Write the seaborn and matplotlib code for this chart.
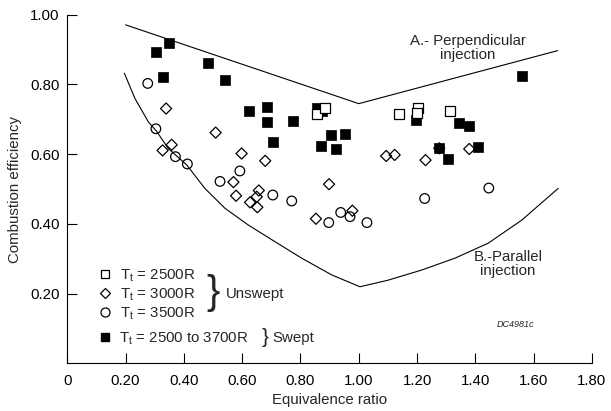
import matplotlib
matplotlib.use("Agg")
import matplotlib.pyplot as plt
import seaborn as sns
import pandas as pd
from matplotlib.lines import Line2D

# ---------------- data ----------------
# T_t = 2500R, unswept (open squares)
sq_x = [0.858, 0.883, 1.138, 1.202, 1.199, 1.312]
sq_y = [0.714, 0.733, 0.714, 0.733, 0.717, 0.724]

# T_t = 3000R, unswept (open diamonds)
dm_x = [0.339, 0.327, 0.358, 0.509, 0.598, 0.679, 0.570, 0.579, 0.657, 0.650,
        0.627, 0.652, 0.898, 0.853, 0.978, 1.094, 1.123, 1.229, 1.379, 1.276]
dm_y = [0.731, 0.611, 0.627, 0.662, 0.602, 0.581, 0.520, 0.481, 0.496, 0.478,
        0.462, 0.448, 0.514, 0.415, 0.438, 0.595, 0.598, 0.583, 0.615, 0.617]

# T_t = 3500R, unswept (open circles)
ci_x = [0.276, 0.304, 0.371, 0.412, 0.524, 0.592, 0.705, 0.770, 0.897, 0.938,
        0.970, 1.028, 1.226, 1.446]
ci_y = [0.803, 0.673, 0.593, 0.572, 0.522, 0.552, 0.483, 0.466, 0.404, 0.433,
        0.421, 0.404, 0.473, 0.503]

# T_t = 2500 to 3700R, swept (filled squares)
sw_x = [0.303, 0.350, 0.327, 0.484, 0.542, 0.624, 0.684, 0.684, 0.775, 0.705,
        0.858, 0.873, 0.904, 0.954, 0.871, 0.923, 1.196, 1.345, 1.377, 1.561,
        1.408, 1.306, 1.276]
sw_y = [0.892, 0.920, 0.820, 0.862, 0.813, 0.724, 0.734, 0.692, 0.694, 0.635,
        0.733, 0.724, 0.655, 0.657, 0.625, 0.615, 0.698, 0.689, 0.681, 0.825,
        0.622, 0.585, 0.617]

# Boundary A (perpendicular injection)
lineA_x = [0.200, 1.000, 1.682]
lineA_y = [0.971, 0.745, 0.897]

# Boundary B (parallel injection)
lineB_x = [0.196, 0.232, 0.278, 0.307, 0.346, 0.410, 0.472, 0.541, 0.621,
           0.713, 0.804, 0.907, 1.004, 1.101, 1.216, 1.330, 1.444, 1.559, 1.684]
lineB_y = [0.832, 0.760, 0.693, 0.665, 0.617, 0.569, 0.502, 0.445, 0.397,
           0.349, 0.302, 0.254, 0.220, 0.239, 0.268, 0.302, 0.345, 0.411, 0.502]

x_ticks = [0, 0.2, 0.4, 0.6, 0.8, 1.0, 1.2, 1.4, 1.6, 1.8]
x_tick_labels = ["0", "0.20", "0.40", "0.60", "0.80", "1.00", "1.20", "1.40", "1.60", "1.80"]
y_ticks = [0.2, 0.4, 0.6, 0.8, 1.0]
y_tick_labels = ["0.20", "0.40", "0.60", "0.80", "1.00"]

legend_unswept = ["T$_\\mathregular{t}$ = 2500R", "T$_\\mathregular{t}$ = 3000R",
                  "T$_\\mathregular{t}$ = 3500R"]
legend_swept = ["T$_\\mathregular{t}$ = 2500 to 3700R"]

# ---------------- style ----------------
sns.set_style("ticks")
plt.rcParams["font.family"] = ["Liberation Sans", "DejaVu Sans"]
plt.rcParams["mathtext.fontset"] = "custom"
plt.rcParams["mathtext.rm"] = "Liberation Sans"
plt.rcParams["mathtext.it"] = "Liberation Sans:italic"
plt.rcParams["mathtext.bf"] = "Liberation Sans:bold"

FS = 10.8

fig = plt.figure(figsize=(6.11, 4.11), dpi=100)
ax = fig.add_axes([0.1101, 0.1156, 0.8588, 0.8486])

lw = 0.8
sns.lineplot(x=lineA_x, y=lineA_y, sort=False, estimator=None, color="black",
             linewidth=lw, ax=ax)
sns.lineplot(x=lineB_x, y=lineB_y, sort=False, estimator=None, color="black",
             linewidth=lw, ax=ax)

sns.scatterplot(x=ci_x, y=ci_y, marker="o", s=48, facecolor="none",
                edgecolor="black", linewidth=0.9, ax=ax, zorder=3)
sns.scatterplot(x=dm_x, y=dm_y, marker="D", s=32, facecolor="none",
                edgecolor="black", linewidth=0.9, ax=ax, zorder=3)
sns.scatterplot(x=sw_x, y=sw_y, marker="s", s=46, facecolor="black",
                edgecolor="black", linewidth=0.5, ax=ax, zorder=4)
sns.scatterplot(x=sq_x, y=sq_y, marker="s", s=42, facecolor="white",
                edgecolor="black", linewidth=0.9, ax=ax, zorder=5)

ax.set_xlim(0, 1.8)
ax.set_ylim(0, 1.0)
ax.set_xticks(x_ticks)
ax.set_xticklabels(x_tick_labels)
ax.set_yticks(y_ticks)
ax.set_yticklabels(y_tick_labels)
ax.tick_params(axis="both", direction="in", length=7, width=0.8, labelsize=FS,
               colors="black")
ax.tick_params(axis="x", pad=7.5)
ax.tick_params(axis="y", pad=5.5)
for s in ["top", "right"]:
    ax.spines[s].set_visible(False)
for s in ["left", "bottom"]:
    ax.spines[s].set_linewidth(0.8)
    ax.spines[s].set_color("black")

ax.set_xlabel("Equivalence ratio", fontsize=FS, labelpad=4)
ax.set_ylabel("Combustion efficiency", fontsize=FS, labelpad=5.5)

# annotations
ax.text(1.375, 0.905, "A.- Perpendicular\ninjection", ha="center", va="center",
        multialignment="center", fontsize=FS, linespacing=1.0)
ax.text(1.512, 0.285, "B.-Parallel\ninjection", ha="center", va="center",
        multialignment="center", fontsize=FS, linespacing=1.0)
ax.text(1.539, 0.113, "DC4981c", ha="center", va="center", fontsize=6.5,
        style="italic")

# legends
h1 = [Line2D([], [], ls="none", marker="s", ms=6, mfc="white", mec="black", mew=0.9),
      Line2D([], [], ls="none", marker="D", ms=5.5, mfc="white", mec="black", mew=0.9),
      Line2D([], [], ls="none", marker="o", ms=6.5, mfc="white", mec="black", mew=0.9)]
leg1 = ax.legend(h1, legend_unswept, loc="center left",
                 bbox_to_anchor=(0.058, 0.197), frameon=False, fontsize=FS,
                 borderpad=0, borderaxespad=0, handlelength=1.0,
                 handletextpad=0.5, labelspacing=0.17)
ax.add_artist(leg1)
h2 = [Line2D([], [], ls="none", marker="s", ms=6, mfc="black", mec="black")]
ax.legend(h2, legend_swept, loc="center left", bbox_to_anchor=(0.058, 0.072),
          frameon=False, fontsize=FS, borderpad=0, borderaxespad=0,
          handlelength=1.0, handletextpad=0.45)

# braces
ax.text(0.500, 0.201, "}", ha="center", va="center", fontsize=29)
ax.text(0.545, 0.199, "Unswept", ha="left", va="center", fontsize=FS)
ax.text(0.680, 0.074, "}", ha="center", va="center", fontsize=15)
ax.text(0.705, 0.072, "Swept", ha="left", va="center", fontsize=FS)

fig.savefig("out.png", dpi=100)
